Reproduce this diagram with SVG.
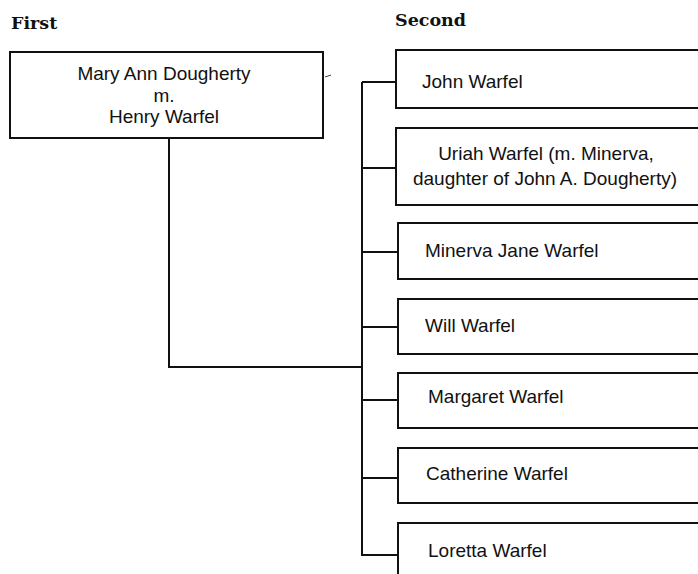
<svg xmlns="http://www.w3.org/2000/svg" width="698" height="574" viewBox="0 0 698 574">
<style>
.box{fill:#fff;stroke:#111;stroke-width:2}
.ln{fill:none;stroke:#111;stroke-width:2}
.hd{font-family:"DejaVu Serif",serif;font-weight:bold;font-size:17.5px;fill:#111}
.t{font-family:"Liberation Sans",Arial,sans-serif;font-size:19px;fill:#111}
.c{text-anchor:middle}
</style>
<rect width="698" height="574" fill="#fff"/>
<text class="hd" x="11" y="29">First</text>
<text class="hd" x="395" y="26">Second</text>
<g id="connectors">
<polyline class="ln" points="169,138 169,367 362,367"/>
<line class="ln" x1="362" y1="82" x2="362" y2="556"/>
<line class="ln" x1="362" y1="82" x2="396" y2="82"/>
<line class="ln" x1="362" y1="168" x2="396" y2="168"/>
<line class="ln" x1="362" y1="252" x2="398" y2="252"/>
<line class="ln" x1="362" y1="327" x2="398" y2="327"/>
<line class="ln" x1="362" y1="400" x2="398" y2="400"/>
<line class="ln" x1="362" y1="478" x2="398" y2="478"/>
<line class="ln" x1="362" y1="555" x2="398" y2="555"/>
<line x1="325" y1="77" x2="331" y2="75" stroke="#444" stroke-width="1"/>
</g>
<g id="parent">
<rect class="box" x="10" y="52" width="313" height="86"/>
<text class="t c" x="164" y="80">Mary Ann Dougherty</text>
<text class="t c" x="164" y="101.5">m.</text>
<text class="t c" x="164" y="123">Henry Warfel</text>
</g>
<g id="john"><rect class="box" x="396" y="50" width="320" height="58"/><text class="t" x="422" y="88">John Warfel</text></g>
<g id="uriah"><rect class="box" x="396" y="128" width="320" height="77"/><text class="t c" x="546" y="160">Uriah Warfel (m. Minerva,</text><text class="t c" x="545" y="185">daughter of John A. Dougherty)</text></g>
<g id="minerva"><rect class="box" x="398" y="223" width="320" height="56"/><text class="t" x="425" y="257">Minerva Jane Warfel</text></g>
<g id="will"><rect class="box" x="398" y="299" width="320" height="55"/><text class="t" x="425" y="332">Will Warfel</text></g>
<g id="margaret"><rect class="box" x="398" y="373" width="320" height="55"/><text class="t" x="428" y="403">Margaret Warfel</text></g>
<g id="catherine"><rect class="box" x="398" y="448" width="320" height="55"/><text class="t" x="426" y="480">Catherine Warfel</text></g>
<g id="loretta"><rect class="box" x="398" y="523" width="320" height="80"/><text class="t" x="428" y="557">Loretta Warfel</text></g>
</svg>
